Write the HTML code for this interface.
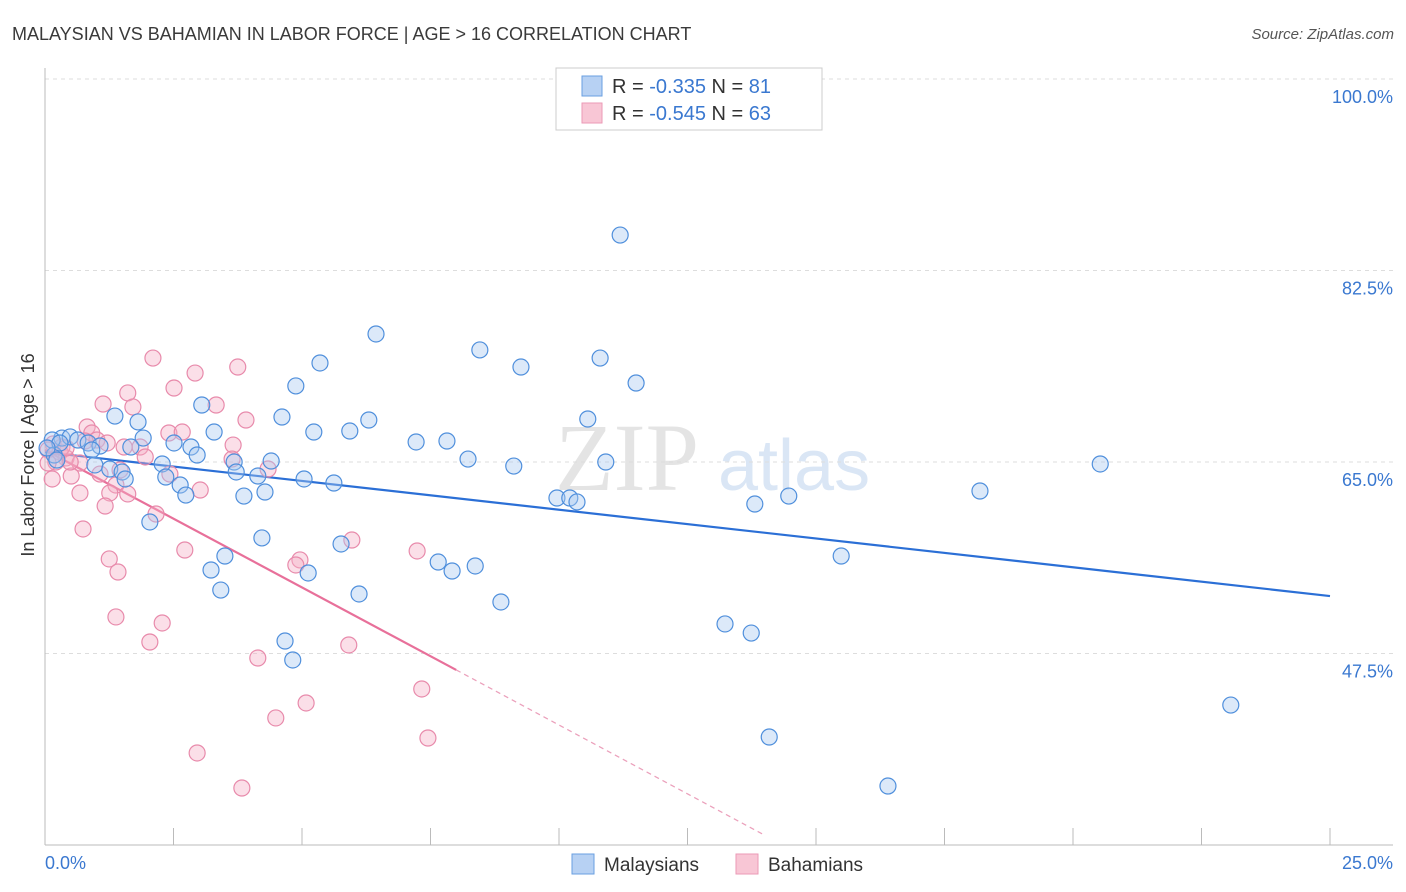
<!DOCTYPE html>
<html><head><meta charset="utf-8"><style>
body{margin:0;background:#fff;font-family:"Liberation Sans",sans-serif;}
#wrap{position:relative;width:1406px;height:892px;overflow:hidden;}
</style></head><body>
<div id="wrap">
<svg id="chart" width="1406" height="892">
<text x="12" y="40" font-size="18" fill="#3a3a3a">MALAYSIAN VS BAHAMIAN IN LABOR FORCE | AGE &gt; 16 CORRELATION CHART</text>
<text x="1394" y="39" font-size="15" fill="#555" font-style="italic" text-anchor="end">Source: ZipAtlas.com</text>
<g opacity="0.9">
<text x="555" y="490" font-size="96" font-family="Liberation Serif,serif" fill="#e2e2e2">ZIP</text>
<text x="718" y="490" font-size="72" fill="#d6e4f5">atlas</text>
</g>
<g id="grid"></g>
<g id="axes"></g>
<g id="lines"></g>
<g id="pts"></g>
<text transform="translate(34,455) rotate(-90)" font-size="18" fill="#333" text-anchor="middle">In Labor Force | Age &gt; 16</text>
<text x="45" y="869" font-size="18" fill="#3a78d0">0.0%</text>
<text x="1393" y="869" font-size="18" fill="#3a78d0" text-anchor="end">25.0%</text>
<g>
<rect x="556" y="68" width="266" height="62" fill="#fff" stroke="#ccc"/>
<rect x="582" y="76" width="20" height="20" fill="#b7d1f3" stroke="#6a9fe0"/>
<rect x="582" y="103" width="20" height="20" fill="#f8c6d5" stroke="#eb9ab6"/>
<text x="612" y="93" font-size="20" fill="#333">R = <tspan fill="#3a78d0">-0.335</tspan>   N = <tspan fill="#3a78d0">81</tspan></text>
<text x="612" y="120" font-size="20" fill="#333">R = <tspan fill="#3a78d0">-0.545</tspan>   N = <tspan fill="#3a78d0">63</tspan></text>
</g>
<g>
<rect x="572" y="854" width="22" height="20" fill="#b7d1f3" stroke="#6a9fe0"/>
<text x="604" y="871" font-size="19" fill="#333">Malaysians</text>
<rect x="736" y="854" width="22" height="20" fill="#f8c6d5" stroke="#eb9ab6"/>
<text x="768" y="871" font-size="19" fill="#333">Bahamians</text>
</g>
</svg>
</div>
<script>
const yTicks=[100,82.5,65,47.5];
const yTickLabels=["100.0%","82.5%","65.0%","47.5%"];
const xTicks=[0,2.5,5,7.5,10,12.5,15,17.5,20,22.5,25];
const blueX=[11.19,6.44,8.46,5.35,10.80,9.26,11.50,4.88,3.05,4.61,1.36,1.81,6.30,10.56,5.23,5.93,3.29,1.91,7.22,7.82,1.67,2.51,2.84,2.96,0.33,0.49,0.14,0.64,0.84,1.07,0.18,0.91,8.23,9.12,10.91,20.53,3.68,4.40,2.28,0.97,1.26,1.50,1.56,3.72,4.14,5.04,5.62,2.35,2.63,2.74,3.87,4.28,9.96,10.21,10.35,13.81,14.47,18.19,2.04,4.22,5.76,3.50,3.23,5.12,7.65,7.92,8.37,15.49,3.42,6.11,8.87,13.23,13.74,4.67,4.82,23.07,14.09,16.40,0.29,0.04,0.23];
const blueY=[85.74,76.7,75.24,74.05,74.5,73.68,72.22,71.95,70.21,69.11,69.2,68.66,68.84,68.93,67.74,67.83,67.74,67.19,66.83,66.92,66.37,66.74,66.37,65.64,67.19,67.29,67.01,67.01,66.74,66.46,65.64,66.1,65.27,64.63,65.0,64.82,65.0,65.09,64.82,64.73,64.36,64.09,63.45,64.09,63.72,63.45,63.08,63.63,62.9,61.98,61.89,62.26,61.71,61.71,61.35,61.16,61.89,62.35,59.52,58.06,57.51,56.41,55.13,54.86,55.86,55.04,55.5,56.41,53.3,52.94,52.21,50.2,49.37,48.64,46.91,42.79,39.87,35.39,66.74,66.28,65.18];
const pinkX=[2.10,3.75,2.92,2.51,1.61,1.13,1.71,3.33,0.82,0.91,2.41,2.67,3.66,1.85,1.01,0.16,0.06,0.29,0.41,0.21,1.54,1.95,0.06,0.68,1.46,2.43,0.51,1.07,1.38,1.61,1.26,3.02,0.68,1.17,0.14,2.16,0.74,4.34,2.72,1.25,4.96,4.88,5.97,7.24,1.42,1.38,2.28,2.04,5.91,4.14,7.33,5.08,4.49,7.45,2.96,3.83,0.49,0.33,0.78,3.91,3.64,0.41,1.21];
const pinkY=[74.5,73.68,73.13,71.76,71.31,70.3,70.03,70.21,68.2,67.65,67.65,67.74,66.55,66.37,67.01,66.65,66.1,65.91,65.37,65.0,66.37,65.46,64.91,64.91,64.27,63.9,63.72,63.9,62.9,62.08,62.17,62.44,62.17,60.98,63.45,60.25,58.88,64.36,56.96,56.14,56.05,55.59,57.87,56.87,54.95,50.84,50.29,48.55,48.28,47.09,44.26,42.98,41.61,39.78,38.41,35.21,65.0,66.37,66.92,68.84,65.27,66.28,66.74];
const blueTrend=[[0,65.9],[25,52.75]];
const pinkTrendSolid=[[0,66.1],[8.0,46.0]];
const pinkTrendDash=[[8.0,46.0],[14.0,30.9]];

const NS="http://www.w3.org/2000/svg";
const X0=45,X1=1330,Y100=79,PXPER=10.943;
function sx(v){return X0+(X1-X0)*v/25;}
function sy(v){return Y100+(100-v)*PXPER;}
function mk(tag,attrs,parent){const e=document.createElementNS(NS,tag);for(const k in attrs)e.setAttribute(k,attrs[k]);parent.appendChild(e);return e;}
const grid=document.getElementById('grid'),axes=document.getElementById('axes'),lines=document.getElementById('lines'),pts=document.getElementById('pts');
yTicks.forEach((t,i)=>{
  const l=mk('line',{x1:45,x2:1393,y1:sy(t),y2:sy(t),stroke:'#ddd','stroke-dasharray':'4,4'},grid);
  
  
  const tx=mk('text',{x:1393,y:sy(t)+24,'font-size':18,fill:'#3a78d0','text-anchor':'end'},grid);
  tx.textContent=yTickLabels[i];
  
  
});
const ya=mk('line',{x1:45,x2:45,y1:68,y2:845,stroke:'#bbb'},axes);


const xa=mk('line',{x1:45,x2:1393,y1:845,y2:845,stroke:'#bbb'},axes);


xTicks.forEach(t=>{
  const l=mk('line',{x1:sx(t),x2:sx(t),y1:828,y2:845,stroke:'#bbb'},axes);
  
  
});
function pts2(xs,ys,fill,stroke,name){
  xs.forEach((x,i)=>{
    const c=mk('circle',{cx:sx(x),cy:sy(ys[i]),r:8,fill:fill,'fill-opacity':0.4,stroke:stroke,'stroke-width':1.2},pts);
    
    
  });
}
pts2(pinkX,pinkY,'#f4b0c6','#e88aab','bahamian-point');
pts2(blueX,blueY,'#a8c8f0','#4f8fdc','malaysian-point');
function ln(p,stroke,w,dash,name){
  const a={x1:sx(p[0][0]),y1:sy(p[0][1]),x2:sx(p[1][0]),y2:sy(p[1][1]),stroke:stroke,'stroke-width':w};
  if(dash)a['stroke-dasharray']=dash;
  const l=mk('line',a,lines);
  
  
}
ln(blueTrend,'#2b6fd6',2.2,null,'malaysian-trendline');
ln(pinkTrendSolid,'#e8709a',2.2,null,'bahamian-trendline');
ln(pinkTrendDash,'#eba0bb',1.2,'5,4','bahamian-trendline-extension');
</script>
</body></html>
